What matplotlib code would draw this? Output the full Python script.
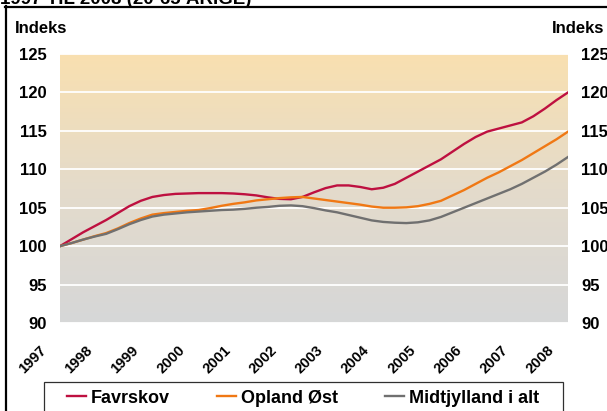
import numpy as np
import matplotlib
matplotlib.use("Agg")
import matplotlib.pyplot as plt
from matplotlib.lines import Line2D
from matplotlib.patches import Rectangle
from matplotlib.transforms import ScaledTranslation, blended_transform_factory
from matplotlib.colors import LinearSegmentedColormap

plt.rcParams['font.family'] = ['Liberation Sans', 'DejaVu Sans']

# ---- data ----
quarters = np.linspace(1997, 2008, 45)
favrskov = [100.0, 100.9, 101.8, 102.6, 103.4, 104.3, 105.2, 105.9, 106.4, 106.65,
            106.8, 106.85, 106.9, 106.9, 106.9, 106.85, 106.75, 106.6, 106.35, 106.15,
            106.1, 106.4, 107.0, 107.55, 107.9, 107.9, 107.7, 107.4, 107.6, 108.1,
            108.9, 109.7, 110.5, 111.3, 112.3, 113.3, 114.2, 114.9, 115.3, 115.7,
            116.1, 116.9, 117.9, 119.0, 120.0]
opland = [100.0, 100.4, 100.85, 101.3, 101.7, 102.3, 103.0, 103.6, 104.1, 104.3,
          104.45, 104.6, 104.7, 104.95, 105.25, 105.5, 105.7, 105.95, 106.1, 106.25,
          106.35, 106.4, 106.2, 106.0, 105.8, 105.6, 105.4, 105.15, 105.0, 105.0,
          105.05, 105.2, 105.5, 105.9, 106.6, 107.3, 108.1, 108.9, 109.6, 110.4,
          111.2, 112.1, 113.0, 113.9, 114.9]
midtjylland = [100.0, 100.4, 100.85, 101.25, 101.6, 102.2, 102.85, 103.4, 103.85, 104.1,
               104.25, 104.4, 104.5, 104.6, 104.7, 104.75, 104.85, 105.0, 105.1, 105.25,
               105.3, 105.2, 104.95, 104.65, 104.4, 104.05, 103.7, 103.35, 103.15, 103.05,
               103.0, 103.1, 103.35, 103.8, 104.4, 105.0, 105.6, 106.2, 106.8, 107.4,
               108.1, 108.9, 109.7, 110.6, 111.6]
series_names = ['Favrskov', 'Opland Øst', 'Midtjylland i alt']
series_colors = ['#BE1040', '#F07814', '#707070']
year_ticks = list(range(1997, 2009))
year_labels = [str(y) for y in year_ticks]
y_ticks = [90, 95, 100, 105, 110, 115, 120, 125]
title_text = '1997 TIL 2008 (20-65 ÅRIGE)'
axis_label = 'Indeks'

W, H = 607, 411
fig = plt.figure(figsize=(W / 100, H / 100), dpi=100)
fig.patch.set_facecolor('white')

def fx(px):
    return px / W

def fy(py):
    return 1 - py / H

ax = fig.add_axes([fx(60), fy(323), fx(568) - fx(60), fy(54) - fy(323)])
ax.set_xlim(1997, 2008)
ax.set_ylim(90, 125)

# gradient background
cmap = LinearSegmentedColormap.from_list('bg', ['#D6D7D8', '#E4DBCB', '#F9E0B0'])
grad = np.linspace(0, 1, 256).reshape(-1, 1)
ax.imshow(grad, extent=[1997, 2008, 90, 125], origin='lower', aspect='auto',
          cmap=cmap, zorder=0)

ax.set_yticks(y_ticks)
ax.yaxis.grid(True, color='white', linewidth=1.3)
ax.set_axisbelow(True)
for s in ax.spines.values():
    s.set_visible(False)

for vals, name, col in zip([favrskov, opland, midtjylland], series_names, series_colors):
    ax.plot(quarters, vals, color=col, linewidth=1.7, label=name, zorder=3,
            solid_joinstyle='round')

ax.tick_params(axis='y', length=0, labelsize=12, pad=9.4, labelleft=True, labelright=True)
for t in ax.yaxis.get_major_ticks():
    t.label1.set_fontweight('bold')
    t.label2.set_fontweight('bold')

# x axis year labels, rotated
ax.set_xticks([])
trans = blended_transform_factory(ax.transData, ax.transAxes) + \
    ScaledTranslation(-21 / 100, -20 / 100, fig.dpi_scale_trans)
for yr, lab in zip(year_ticks, year_labels):
    ax.text(yr, 0, lab, transform=trans, rotation=45, rotation_mode='anchor',
            ha='right', va='top', fontsize=10.5, fontweight='bold', clip_on=False)

# axis labels
fig.text(fx(15), fy(33), axis_label, fontsize=12, fontweight='bold', va='baseline', ha='left')
fig.text(fx(552), fy(33), axis_label, fontsize=12, fontweight='bold', va='baseline', ha='left')

# title (cut off at top)
fig.text(fx(0), fy(3.5), title_text, fontsize=13.5, fontweight='bold', va='baseline', ha='left')

# frame lines
fig.add_artist(Line2D([fx(5), fx(607)], [fy(7), fy(7)], color='black', linewidth=1.6,
                      transform=fig.transFigure))
fig.add_artist(Line2D([fx(6), fx(6)], [fy(6.2), fy(411)], color='black', linewidth=1.6,
                      transform=fig.transFigure))

# legend box
fig.add_artist(Rectangle((fx(44), fy(416)), fx(563) - fx(44), fy(382.3) - fy(416),
                         transform=fig.transFigure, facecolor='white',
                         edgecolor='#303030', linewidth=0.9))
handles, labels = ax.get_legend_handles_labels()
leg = fig.legend(handles, labels, loc='center left', bbox_to_anchor=(fx(67), fy(398)),
                 ncol=3, frameon=False, borderpad=0, borderaxespad=0,
                 handlelength=1.05, handletextpad=0.28, columnspacing=2.6,
                 prop={'weight': 'bold', 'size': 13})

fig.savefig('out.png', dpi=100, facecolor='white')
